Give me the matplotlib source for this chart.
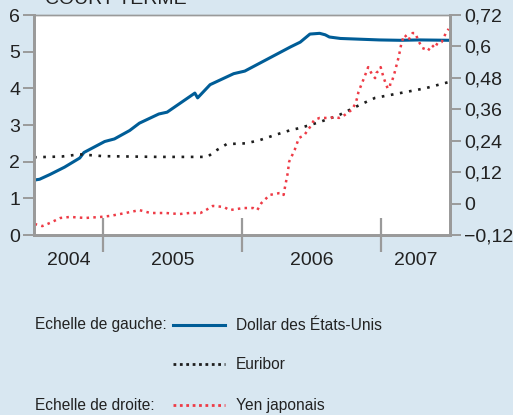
import matplotlib
matplotlib.use("Agg")
import matplotlib.pyplot as plt
from matplotlib.lines import Line2D

plt.rcParams['font.family'] = ['Liberation Sans', 'DejaVu Sans']

# Dollar des Etats-Unis (echelle de gauche), annee decimale / %
usd_t = [2004.50, 2004.505, 2004.54, 2004.615, 2004.72, 2004.83, 2004.86, 2005.01, 2005.08,
         2005.19, 2005.26, 2005.40, 2005.46, 2005.66, 2005.68, 2005.77, 2005.94, 2006.02,
         2006.13, 2006.35, 2006.42, 2006.49, 2006.56, 2006.60, 2006.63, 2006.71, 2006.85,
         2006.99, 2007.14, 2007.28, 2007.50]
usd_v = [1.30, 1.50, 1.52, 1.65, 1.85, 2.10, 2.25, 2.55, 2.62,
         2.85, 3.05, 3.30, 3.35, 3.87, 3.74, 4.10, 4.40, 4.47,
         4.69, 5.13, 5.26, 5.48, 5.50, 5.46, 5.40, 5.36, 5.34,
         5.32, 5.31, 5.32, 5.31]

# Euribor (echelle de gauche)
eur_t = [2004.50, 2004.70, 2004.83, 2005.00, 2005.40, 2005.75, 2005.82, 2005.89, 2006.03,
         2006.13, 2006.24, 2006.35, 2006.42, 2006.56, 2006.70, 2006.85, 2006.96, 2007.14,
         2007.32, 2007.49]
eur_v = [2.12, 2.14, 2.20, 2.15, 2.13, 2.13, 2.32, 2.48, 2.50,
         2.59, 2.73, 2.86, 2.92, 3.08, 3.27, 3.55, 3.74, 3.87,
         4.00, 4.17]

# Yen japonais (echelle de droite)
jpy_t = [2004.505, 2004.56, 2004.615, 2004.69, 2004.76, 2004.87, 2004.98, 2005.05, 2005.16,
         2005.26, 2005.34, 2005.45, 2005.55, 2005.62, 2005.70, 2005.73, 2005.79, 2005.87,
         2005.91, 2006.01, 2006.08, 2006.11, 2006.14, 2006.20, 2006.27, 2006.29, 2006.30,
         2006.31, 2006.33, 2006.34, 2006.38, 2006.41, 2006.45, 2006.49, 2006.52, 2006.56,
         2006.63, 2006.67, 2006.70, 2006.74, 2006.77, 2006.79, 2006.80, 2006.82, 2006.83,
         2006.84, 2006.86, 2006.88, 2006.91, 2006.94, 2006.96, 2006.97, 2006.99, 2007.00,
         2007.02, 2007.04, 2007.05, 2007.06, 2007.065, 2007.07, 2007.08, 2007.10, 2007.13,
         2007.15, 2007.17, 2007.18, 2007.20, 2007.23, 2007.25, 2007.27, 2007.30, 2007.32,
         2007.34, 2007.37, 2007.39, 2007.41, 2007.44, 2007.47, 2007.49]
jpy_v = [-0.078, -0.086, -0.074, -0.055, -0.051, -0.055, -0.051, -0.047, -0.036,
         -0.025, -0.036, -0.036, -0.040, -0.036, -0.036, -0.028, -0.009, -0.013,
         -0.025, -0.017, -0.017, -0.025, 0.002, 0.033, 0.040, 0.040, 0.033,
         0.063, 0.117, 0.160, 0.205, 0.250, 0.262, 0.292, 0.319, 0.327,
         0.327, 0.330, 0.327, 0.338, 0.350, 0.357, 0.365, 0.384, 0.403,
         0.426, 0.453, 0.479, 0.521, 0.491, 0.479, 0.499, 0.510, 0.521,
         0.483, 0.453, 0.441, 0.441, 0.441, 0.460, 0.464, 0.499, 0.560,
         0.613, 0.644, 0.640, 0.624, 0.651, 0.651, 0.624, 0.594, 0.590,
         0.583, 0.605, 0.594, 0.613, 0.617, 0.651, 0.667]

years = ["2004", "2005", "2006", "2007"]
year_pos = [2004.75, 2005.5, 2006.5, 2007.25]
year_breaks = [2005, 2006, 2007]
left_ticks = [0, 1, 2, 3, 4, 5, 6]
right_ticks = [-0.12, 0, 0.12, 0.24, 0.36, 0.48, 0.6, 0.72]
right_labels = ["\u22120,12", "0", "0,12", "0,24", "0,36", "0,48", "0,6", "0,72"]

bg = "#d8e7f1"
grey = "#9a9a9a"
blue = "#005d97"
red = "#ee3b46"
black = "#1e1e1e"
txt = "#222222"

fig = plt.figure(figsize=(5.13, 4.15), dpi=100, facecolor=bg)
ax = fig.add_axes([34 / 513, 1 - 235 / 415, 416 / 513, 220 / 415])
ax.set_facecolor("white")
ax2 = ax.twinx()

ax.plot(usd_t, usd_v, color=blue, lw=2.2, solid_joinstyle="round")
ax.plot(eur_t, eur_v, color=black, lw=1.9, linestyle=(0, (1, 2.5)))
ax2.plot(jpy_t, jpy_v, color=red, lw=1.8, linestyle=(0, (1, 1.7)))

ax.set_xlim(2004.5, 2007.5)
ax.set_ylim(0, 6)
ax2.set_ylim(-0.12, 0.72)

ax.set_yticks(left_ticks)
ax.set_yticklabels([str(v) for v in left_ticks])
ax2.set_yticks(right_ticks)
ax2.set_yticklabels(right_labels)

ax.set_xticks(year_breaks)
ax.set_xticklabels([])
ax.set_xticks(year_pos, minor=True)
ax.set_xticklabels(years, minor=True)
ax.tick_params(axis="x", which="major", direction="inout", length=24, width=1.6, color=grey)
ax.tick_params(axis="x", which="minor", length=0, pad=12, labelsize=14, labelcolor=txt)

ax.tick_params(axis="y", direction="out", length=8, width=1.4, color=grey,
               labelsize=14, labelcolor=txt, pad=2)
ax2.tick_params(axis="y", direction="out", length=8, width=1.4, color=grey,
                labelsize=14, labelcolor=txt, pad=2)

for a in (ax, ax2):
    for side in ["left", "right", "bottom"]:
        a.spines[side].set_color(grey)
        a.spines[side].set_linewidth(2)
    a.spines["top"].set_color(grey)
    a.spines["top"].set_linewidth(1)

# titre coupe en haut
fig.text(45 / 513, 1 - 4 / 415, "COURT TERME", fontsize=14, color=txt, va="baseline")

# legende
def leg_line(y, **kw):
    fig.add_artist(Line2D([173 / 513, 225 / 513], [1 - y / 415, 1 - y / 415], **kw))

leg_line(325, color=blue, lw=2.2)
leg_line(364, color=black, lw=2, linestyle=(0, (1, 1.3)))
leg_line(405, color=red, lw=2, linestyle=(0, (1, 1.3)))

fs = 11.2
fig.text(35 / 513, 1 - 325 / 415, "Echelle de gauche:", fontsize=fs, color=txt, va="center")
fig.text(35 / 513, 1 - 405 / 415, "Echelle de droite:", fontsize=fs, color=txt, va="center")
fig.text(236 / 513, 1 - 325 / 415, "Dollar des États-Unis", fontsize=fs, color=txt, va="center")
fig.text(236 / 513, 1 - 364 / 415, "Euribor", fontsize=fs, color=txt, va="center")
fig.text(236 / 513, 1 - 405 / 415, "Yen japonais", fontsize=fs, color=txt, va="center")

fig.savefig("out.png", dpi=100, facecolor=bg)
